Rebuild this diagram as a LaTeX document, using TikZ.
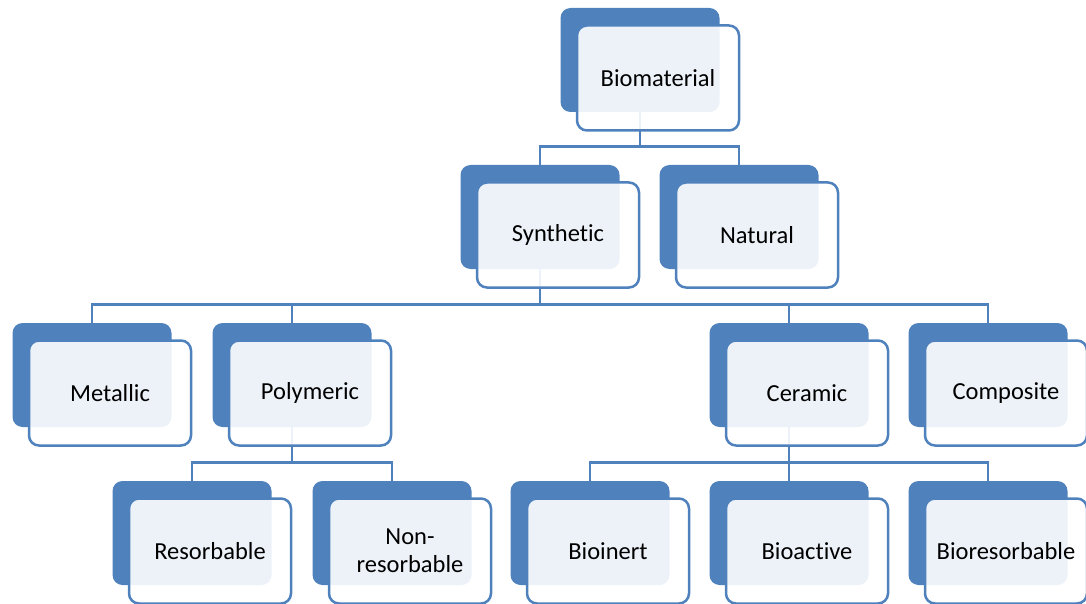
\documentclass[tikz,border=0pt]{standalone}
\usepackage{fontspec}
\setmainfont{Carlito}[Ligatures=NoCommon]
\usetikzlibrary{backgrounds,calc}
\definecolor{boxblue}{RGB}{79,129,189}
\tikzset{
  backbox/.style={fill=boxblue, rounded corners=10pt, minimum width=159pt,
    minimum height=104pt, inner sep=0pt},
  frontbox/.style={draw=boxblue, line width=2.5pt, fill=white, fill opacity=0.9,
    text opacity=1, rounded corners=10pt, minimum width=162pt, minimum height=105pt,
    inner sep=0pt, align=center, font=\fontsize{24.5}{28}\selectfont},
  link/.style={draw=boxblue, line width=2.7pt}
}

\begin{document}
\begin{tikzpicture}[x=1pt, y=-1pt]
  \useasboundingbox (0,0) rectangle (1086,604);

  % Boxes: dark back card plus light front card with the label
  \foreach \n/\x/\y/\t in {bio/640/60/Biomaterial,
      syn/540/217/Synthetic, nat/739/217/Natural,
      met/92/375/Metallic, pol/292/375/Polymeric,
      cer/789/375/Ceramic, com/988/375/Composite,
      res/192/533/Resorbable, non/392/533/{Non-\\resorbable},
      ine/590/533/Bioinert, act/789/533/Bioactive, bre/988/533/Bioresorbable}{
    \node[backbox] (\n-b) at (\x,\y) {};
    \node[frontbox] (\n) at ($(\n-b)+(18,18)$) {\t};
  }

  % Connectors (behind the cards)
  \begin{scope}[on background layer]
    \foreach \p/\c in {bio/syn, bio/nat,
        syn/met, syn/pol, syn/cer, syn/com,
        pol/res, pol/non,
        cer/ine, cer/act, cer/bre}
      \draw[link] (\c-b.north) -- ++(0,-18.5) -| (\p-b.south);
  \end{scope}
\end{tikzpicture}
\end{document}
